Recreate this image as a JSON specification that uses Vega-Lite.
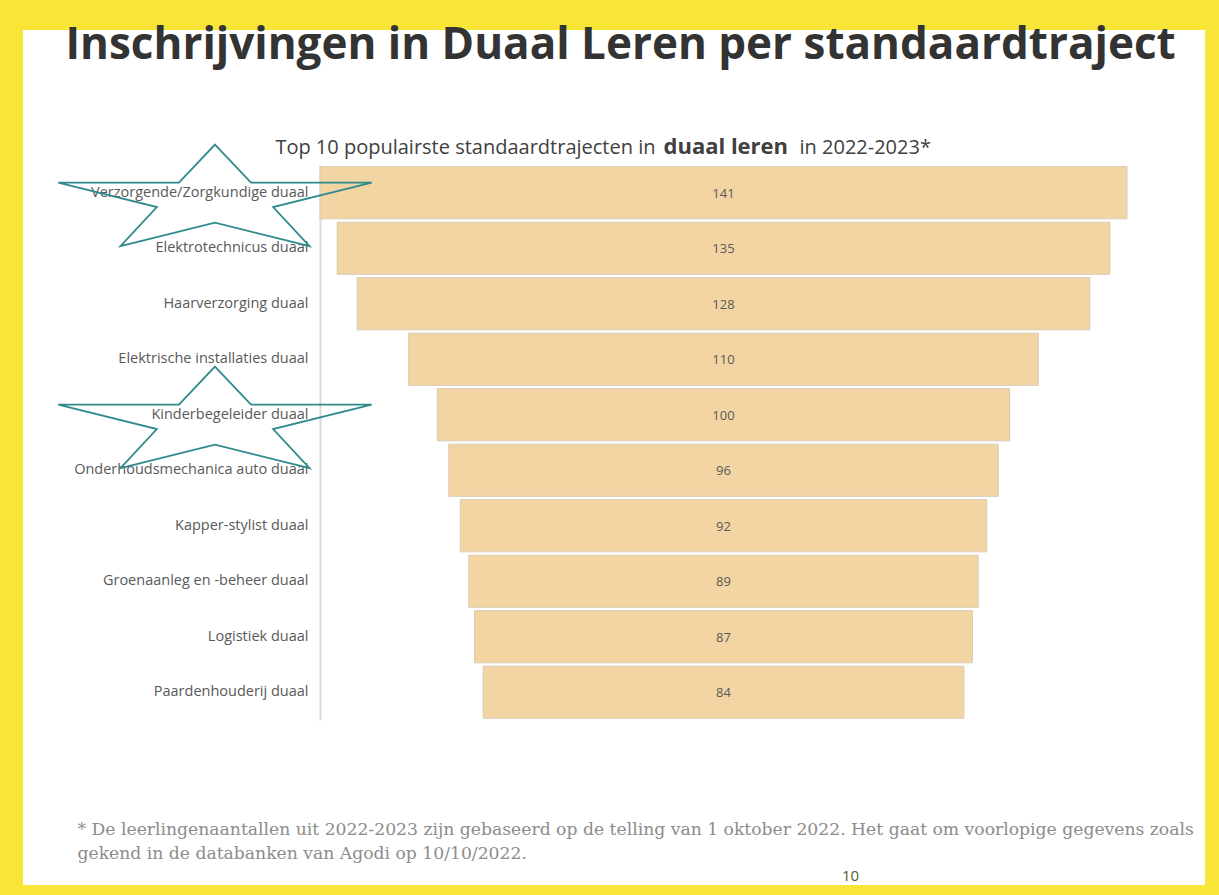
{
  "$schema": "https://vega.github.io/schema/vega-lite/v6.json",
  "width": 1182,
  "height": 855,
  "autosize": {"type": "none"},
  "padding": {"left": 23, "top": 30, "right": 14, "bottom": 10},
  "background": "#f8e535",
  "config": {"view": {"fill": "white", "stroke": null}, "axis": {"grid": false}},
  "data": {
    "values": [
      {"label": "Verzorgende/Zorgkundige duaal", "n": 141},
      {"label": "Elektrotechnicus duaal", "n": 135},
      {"label": "Haarverzorging duaal", "n": 128},
      {"label": "Elektrische installaties duaal", "n": 110},
      {"label": "Kinderbegeleider duaal", "n": 100},
      {"label": "Onderhoudsmechanica auto duaal", "n": 96},
      {"label": "Kapper-stylist duaal", "n": 92},
      {"label": "Groenaanleg en -beheer duaal", "n": 89},
      {"label": "Logistiek duaal", "n": 87},
      {"label": "Paardenhouderij duaal", "n": 84}
    ]
  },
  "resolve": {"axis": {"x": "independent", "y": "independent"}},
  "layer": [
    {
      "mark": {"type": "bar", "fill": "#f3d5a4", "stroke": "#d9cbb4", "strokeWidth": 1},
      "encoding": {
        "y": {
          "field": "label", "type": "nominal",
          "scale": {"domain": ["Verzorgende/Zorgkundige duaal", "Elektrotechnicus duaal", "Haarverzorging duaal", "Elektrische installaties duaal", "Kinderbegeleider duaal", "Onderhoudsmechanica auto duaal", "Kapper-stylist duaal", "Groenaanleg en -beheer duaal", "Logistiek duaal", "Paardenhouderij duaal"], "range": [135, 690], "paddingInner": 0.06, "paddingOuter": 0.03},
          "axis": {
            "orient": "left", "offset": -297,
            "labelFont": "Open Sans", "labelFontSize": 14.5, "labelColor": "#595959", "labelPadding": 12, "labelLimit": 400,
            "ticks": false, "tickSize": 0, "domainColor": "#d9d9d9", "domainWidth": 2,
            "title": "Inschrijvingen in Duaal Leren per standaardtraject",
            "titleFont": "Open Sans", "titleFontSize": 44, "titleFontWeight": "bold", "titleColor": "#333333",
            "titleAngle": 0, "titleAlign": "left", "titleBaseline": "alphabetic", "titleX": -255, "titleY": 28, "titleLimit": 3000
          }
        },
        "x": {
          "field": "n", "type": "quantitative", "stack": "center",
          "scale": {"domain": [0, 141], "range": [297, 1104], "nice": false, "zero": false},
          "axis": {
            "orient": "bottom", "offset": 0, "labels": false, "ticks": false, "domain": false,
            "title": ["* De leerlingenaantallen uit 2022-2023 zijn gebaseerd op de telling van 1 oktober 2022. Het gaat om voorlopige gegevens zoals", "gekend in de databanken van Agodi op 10/10/2022."],
            "titleFont": "DejaVu Serif", "titleFontSize": 17.2, "titleFontWeight": "normal", "titleColor": "#8c8c8c",
            "titleAlign": "left", "titleBaseline": "alphabetic", "titleX": 54, "titleY": -51, "titleLineHeight": 24, "titleLimit": 3000
          }
        }
      }
    },
    {
      "mark": {"type": "text", "font": "Open Sans", "fontSize": 13, "color": "#595959", "baseline": "middle", "dy": 1},
      "encoding": {
        "x": {
          "datum": 70.5, "type": "quantitative",
          "axis": {
            "orient": "top", "offset": 0, "labels": false, "ticks": false, "domain": false,
            "title": "Top 10 populairste standaardtrajecten in",
            "titleFont": "Open Sans", "titleFontSize": 20, "titleFontWeight": "normal", "titleColor": "#404040",
            "titleAlign": "right", "titleBaseline": "alphabetic", "titleX": 632, "titleY": 123, "titleLimit": 3000
          }
        },
        "y": {
          "field": "label", "type": "nominal",
          "axis": {
            "orient": "right", "offset": 0, "labels": false, "ticks": false, "domain": false,
            "title": "duaal leren",
            "titleFont": "Open Sans", "titleFontSize": 22, "titleFontWeight": "bold", "titleColor": "#404040",
            "titleAngle": 0, "titleAlign": "left", "titleBaseline": "alphabetic", "titleX": -542, "titleY": 123, "titleLimit": 3000
          }
        },
        "text": {"field": "n", "type": "quantitative"}
      }
    },
    {
      "transform": [{"filter": {"field": "label", "oneOf": ["Verzorgende/Zorgkundige duaal", "Kinderbegeleider duaal"]}}],
      "mark": {"type": "point", "shape": "M0,-0.307L0.23,-0.064L1,-0.064L0.371,0.091L0.603,0.34L0,0.191L-0.603,0.34L-0.371,0.091L-1,-0.064L-0.23,-0.064Z", "size": 98220, "filled": false, "stroke": "#2f8a8c", "strokeWidth": 1.8, "opacity": 1},
      "encoding": {
        "x": {
          "datum": -18.35, "type": "quantitative",
          "axis": {
            "orient": "top", "offset": 0, "labels": false, "ticks": false, "domain": false,
            "title": "in 2022-2023*",
            "titleFont": "Open Sans", "titleFontSize": 20, "titleFontWeight": "normal", "titleColor": "#404040",
            "titleAlign": "left", "titleBaseline": "alphabetic", "titleX": 776, "titleY": 123, "titleLimit": 3000
          }
        },
        "y": {
          "field": "label", "type": "nominal",
          "axis": {
            "orient": "right", "offset": 0, "labels": false, "ticks": false, "domain": false,
            "title": "10",
            "titleFont": "Open Sans", "titleFontSize": 15, "titleFontWeight": "normal", "titleColor": "#4f6228",
            "titleAngle": 0, "titleAlign": "center", "titleBaseline": "alphabetic", "titleX": -355, "titleY": 850, "titleLimit": 3000
          }
        }
      }
    }
  ]
}
